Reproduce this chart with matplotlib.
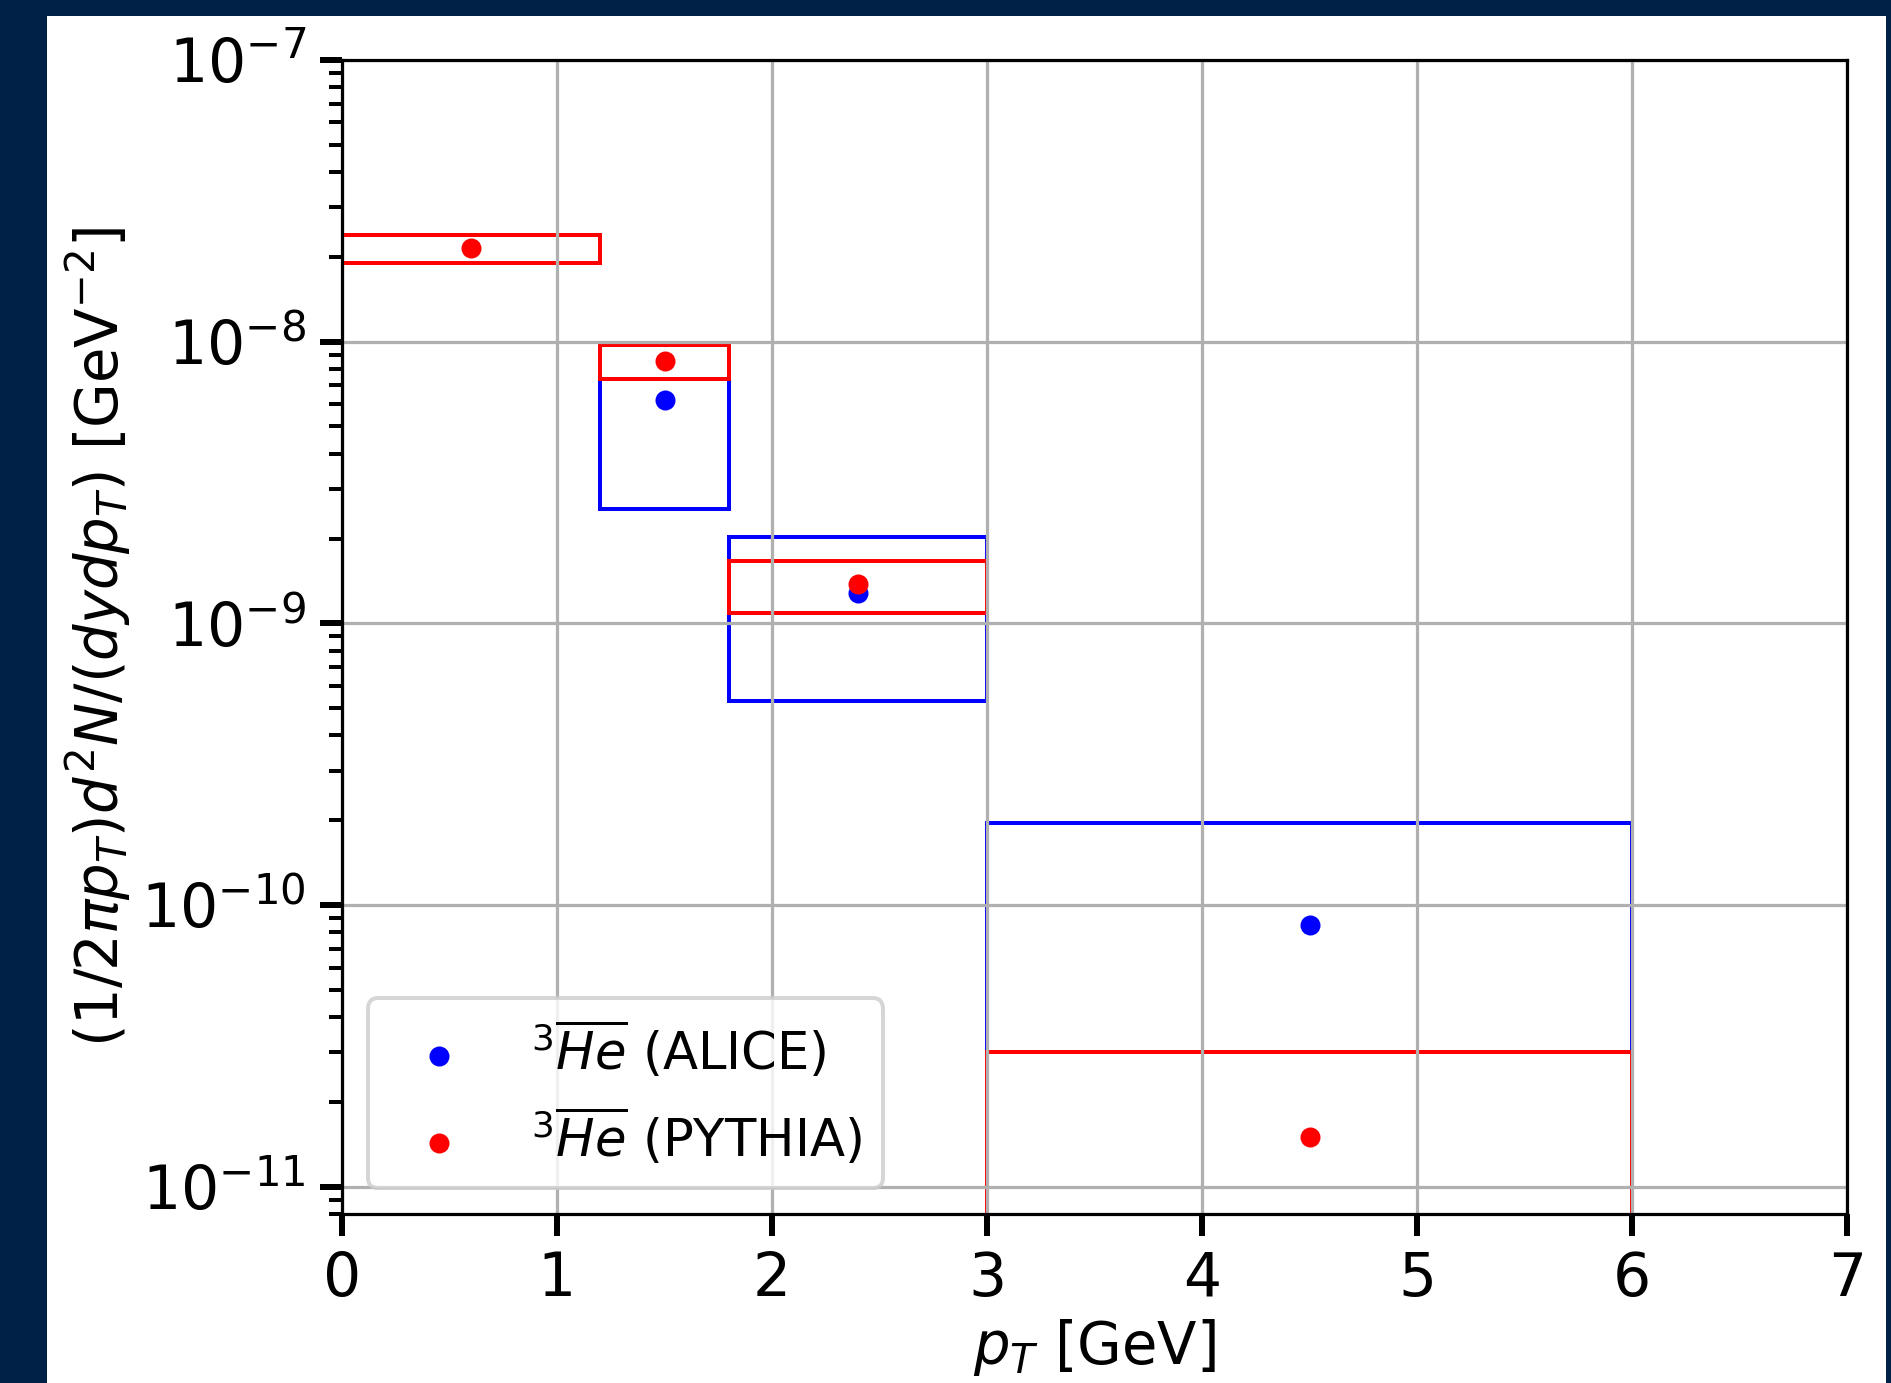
"""
Antihelium-3 pT spectrum: ALICE data vs PYTHIA, drawn as bin boxes.
"""
import matplotlib
matplotlib.use("Agg")
import matplotlib.pyplot as plt
from matplotlib.patches import Rectangle

# pT bin edges [GeV]
bin_lo = [0.0, 1.2, 1.8, 3.0]
bin_hi = [1.2, 1.8, 3.0, 6.0]
bin_mid = [0.6, 1.5, 2.4, 4.5]

# ALICE (no value in first bin)
alice_pt = [1.5, 2.4, 4.5]
alice_lo = [1.2, 1.8, 3.0]
alice_hi = [1.8, 3.0, 6.0]
alice_y = [6.2e-9, 1.28e-9, 8.5e-11]
alice_err = [3.65e-9, 0.75e-9, 1.1e-10]

# PYTHIA
pythia_y = [2.15e-8, 8.55e-9, 1.38e-9, 1.5e-11]
pythia_err = [0.245e-8, 1.17e-9, 0.29e-9, 1.5e-11]

plt.rcParams['font.size'] = 15

fig = plt.figure(figsize=(1891 / 288, 1383 / 288), dpi=288)
# dark frame of the screenshot
navy = '#002147'
W, H = 1891.0, 1383.0
fig.patches.append(Rectangle((0, 0), 45 / W, 1, transform=fig.transFigure,
                             color=navy, zorder=-10))
fig.patches.append(Rectangle((0, 1 - 14 / H), 1, 14 / H, transform=fig.transFigure,
                             color=navy, zorder=-10))
fig.patches.append(Rectangle((1 - 3 / W, 0), 3 / W, 1, transform=fig.transFigure,
                             color=navy, zorder=-10))

ax = fig.add_axes([342 / W, 1 - 1214 / H, (1847 - 342) / W, (1214 - 60) / H])
ax.set_yscale('log')


def draw_boxes(lo, hi, val, err, color):
    for x0, x1, v, e in zip(lo, hi, val, err):
        y0 = max(v - e, 1e-13)
        r = Rectangle((x0, y0), x1 - x0, v + e - y0, fill=False,
                      edgecolor=color, linewidth=1.0)
        ax.add_patch(r)


draw_boxes(alice_lo, alice_hi, alice_y, alice_err, 'blue')
draw_boxes(bin_lo, bin_hi, pythia_y, pythia_err, 'red')

ax.scatter(alice_pt, alice_y, s=16, color='blue', zorder=3,
           label=r'$^3\overline{He}$ (ALICE)')
ax.scatter(bin_mid, pythia_y, s=16, color='red', zorder=3,
           label=r'$^3\overline{He}$ (PYTHIA)')

ax.set_xlim(0, 7)
ax.set_ylim(8e-12, 1e-7)
ax.grid(True)
ax.tick_params(which='major', length=5.5, width=1.5, labelsize=15)
ax.tick_params(which='minor', length=3.2, width=1.0)
ax.set_xlabel(r'$p_T$ [GeV]', fontsize=14.4, labelpad=2)
ax.set_ylabel(r'$(1/2\pi p_T) d^2N/(dy dp_T)$ [GeV$^{-2}$]', fontsize=14.4,
              labelpad=2)
ax.legend(loc='lower left', fontsize=12.8)

fig.savefig('out.png', dpi=288)
